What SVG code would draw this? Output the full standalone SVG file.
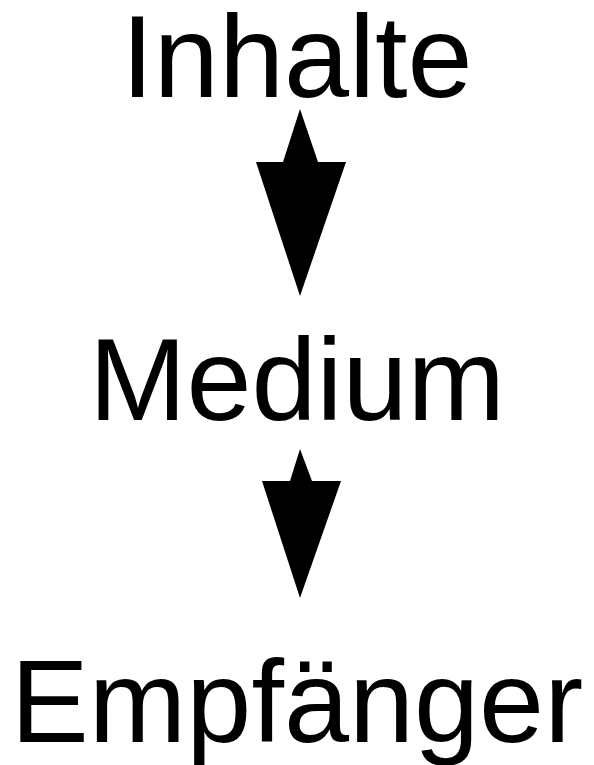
<svg xmlns="http://www.w3.org/2000/svg" width="594" height="765" viewBox="0 0 594 765">
<style>
.lbl{font-family:"Liberation Sans",Arial,sans-serif;font-size:117px;fill:#000;text-anchor:middle}
.arr{fill:#000}
</style>
<rect width="594" height="765" fill="#fff"/>
<g id="inhalte"><text class="lbl" x="297" y="97">Inhalte</text></g>
<g id="medium"><text class="lbl" x="297" y="420">Medium</text></g>
<g id="empfaenger"><text class="lbl" x="297" y="742">Empfänger</text></g>
<g id="connectors">
<polygon class="arr" points="300,109 318,162 346,162 300,296 256,162 283,162"/>
<polygon class="arr" points="300,449 312,481 341,481 300,598 262,481 290,481"/>
</g>
</svg>
